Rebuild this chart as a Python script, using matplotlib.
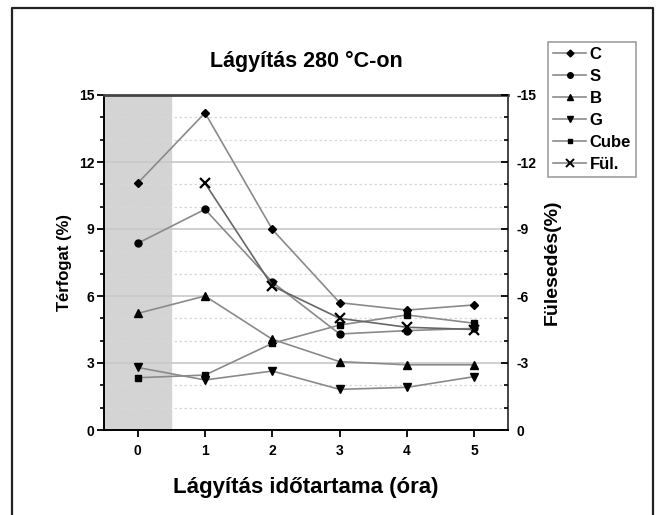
import matplotlib
matplotlib.use("Agg")
import matplotlib.pyplot as plt
from matplotlib.lines import Line2D
from matplotlib.ticker import MultipleLocator

plt.rcParams['font.family'] = ['Liberation Sans', 'DejaVu Sans']
plt.rcParams['font.weight'] = 'bold'

hours = [0, 1, 2, 3, 4, 5]
C = [11.05, 14.2, 8.98, 5.7, 5.37, 5.6]
S = [8.36, 9.88, 6.62, 4.3, 4.45, 4.55]
B = [5.22, 6.0, 4.06, 3.06, 2.92, 2.92]
G = [2.8, 2.24, 2.64, 1.82, 1.91, 2.39]
Cube = [2.34, 2.46, 3.88, 4.7, 5.15, 4.78]
ful_hours = [1, 2, 3, 4, 5]
Ful = [-11.05, -6.45, -5.0, -4.6, -4.5]

W, H = 656, 515
fig = plt.figure(figsize=(W / 100, H / 100), dpi=100)
ax = fig.add_axes([104 / W, 1 - 430 / H, (508 - 104) / W, (430 - 95) / H])

line_c = '#8a8a8a'
series = [(C, 'D', 'C', 4.5), (S, 'o', 'S', 5), (B, '^', 'B', 5.5),
          (G, 'v', 'G', 5.5), (Cube, 's', 'Cube', 4.5)]
handles = []
for vals, m, lab, ms in series:
    ax.plot(hours, vals, color=line_c, lw=1.2, marker=m, ms=ms,
            mfc='black', mec='black', zorder=3)
    handles.append(Line2D([], [], color=line_c, lw=1.2, marker=m, ms=ms - 1,
                          mfc='black', mec='black', label=lab))

ax.axvspan(-0.5, 0.5, color='#d4d4d4', zorder=0)
ax.set_xlim(-0.5, 5.5)
ax.set_ylim(0, 15)
ax.yaxis.set_major_locator(MultipleLocator(3))
ax.yaxis.set_minor_locator(MultipleLocator(1))
ax.set_xticks(hours)
for yv in [3, 6, 9, 12]:
    ax.axhline(yv, color='#c8c8c8', lw=1.2, zorder=1)
for yv in [1, 2, 4, 5, 7, 8, 10, 11, 13, 14]:
    ax.axhline(yv, color='#d8d8d8', lw=0.9, ls=(0, (2, 2)), zorder=1)

ax.tick_params(axis='both', which='major', labelsize=10, length=5, width=1.3, direction='out', pad=2)
ax.tick_params(axis='y', which='minor', length=3, width=1.2, direction='out')
ax.tick_params(axis='x', pad=5)
for sp in ax.spines.values():
    sp.set_linewidth(1.4)
ax.spines['top'].set_linewidth(2.0)
ax.spines['top'].set_color('#444444')
ax.spines['right'].set_color('#444444')
ax.set_ylabel('Térfogat (%)', fontsize=12, fontweight='bold', labelpad=5)
ax.set_xlabel('Lágyítás időtartama (óra)', fontsize=16, fontweight='bold', labelpad=14)
ax.set_title('Lágyítás 280 °C-on', fontsize=15.5, fontweight='bold', pad=20)

ax2 = ax.twinx()
ax2.plot(ful_hours, Ful, color='#666666', lw=1.2, marker='x', ms=7, mew=1.6,
         mec='black', zorder=3)
handles.append(Line2D([], [], color=line_c, lw=1.2, marker='x', ms=6, mew=1.4,
                      mec='black', label='Fül.'))
ax2.set_ylim(0, -15)
ax2.yaxis.set_major_locator(MultipleLocator(3))
ax2.yaxis.set_minor_locator(MultipleLocator(1))
ax2.set_yticks([0, -3, -6, -9, -12, -15])
ax2.set_yticklabels(['0', '-3', '-6', '-9', '-12', '-15'])
ax2.tick_params(axis='y', which='major', labelsize=10, length=5, width=1.3, direction='in', pad=6)
ax2.tick_params(axis='y', which='minor', length=3, width=1.2, direction='in')
ax2.set_ylabel('Fülesedés(%)', fontsize=14, fontweight='bold', labelpad=5)
for sp in ax2.spines.values():
    sp.set_visible(False)

leg = fig.legend(handles=handles, loc='upper left',
                 bbox_to_anchor=(548 / W, 1 - 42 / H), fontsize=12,
                 frameon=True, fancybox=False, handlelength=2.0, handletextpad=0.2,
                 labelspacing=0.42, borderpad=0.3, borderaxespad=0)
leg.get_frame().set_edgecolor('#888888')
leg.get_frame().set_linewidth(1.2)
for t in leg.get_texts():
    t.set_fontweight('bold')

# outer frame
fx = [12 / W, 12 / W, 653 / W, 653 / W]
fy = [0, 1 - 8 / H, 1 - 8 / H, 0]
fig.add_artist(Line2D(fx, fy, transform=fig.transFigure, color='#222222', lw=1.6))

fig.savefig('out.png', dpi=100)
